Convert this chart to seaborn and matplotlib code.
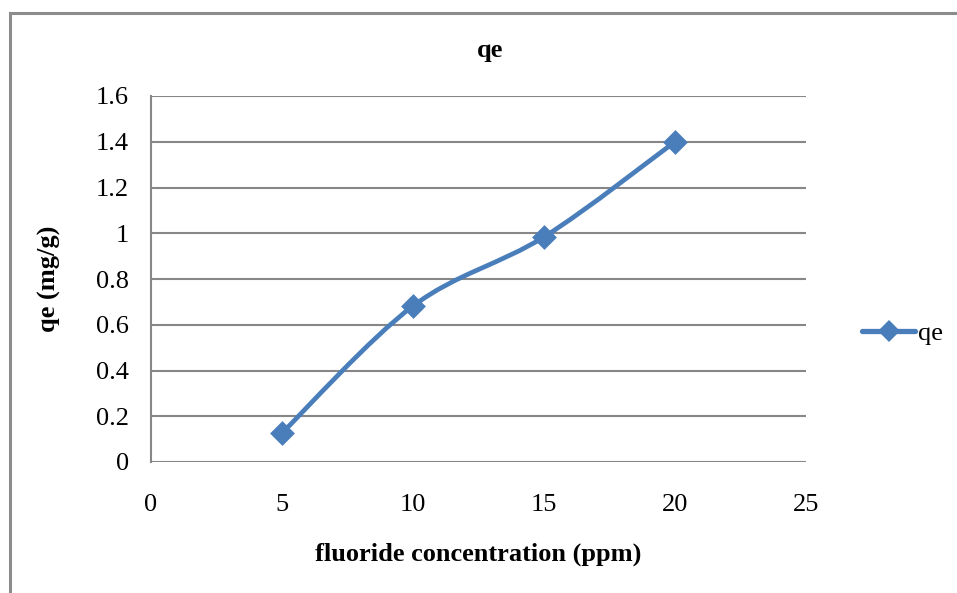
import numpy as np
import pandas as pd
import seaborn as sns
import matplotlib
matplotlib.use("Agg")
import matplotlib.pyplot as plt
from matplotlib.path import Path
from matplotlib.patches import PathPatch, Rectangle
from matplotlib.lines import Line2D

# Adsorption capacity vs. initial fluoride concentration
concentration = [5, 10, 15, 20]
qe_values = [0.127, 0.682, 0.984, 1.40]
series_name = "qe"
x_ticks = [0, 5, 10, 15, 20, 25]
y_ticks = [0, 0.2, 0.4, 0.6, 0.8, 1.0, 1.2, 1.4, 1.6]
y_tick_labels = ["0", "0.2", "0.4", "0.6", "0.8", "1", "1.2", "1.4", "1.6"]

df = pd.DataFrame({"conc": concentration, "qe": qe_values})

sns.set_theme(style="white")
plt.rcParams["font.family"] = ["Liberation Serif", "DejaVu Serif"]
plt.rcParams["text.color"] = "black"
plt.rcParams["axes.labelcolor"] = "black"

BLUE = "#4A7EBB"
GRID = "#878787"
FS = 19

fig = plt.figure(figsize=(9.57, 5.93), dpi=100)
fig.patch.set_facecolor("white")

# outer chart frame (only left and top edges fall inside the canvas)
fig.patches.append(Rectangle((10 / 957, -0.05), 1.2, 1 - 13 / 593 + 0.05,
                             transform=fig.transFigure, fill=False,
                             edgecolor="#8c8c8c", linewidth=2.2))

ax = fig.add_axes([151 / 957, 1 - 462 / 593, (806 - 151) / 957, (462 - 96) / 593])


def smooth_path(xs, ys):
    """Cubic Bezier path through the points (Catmull-Rom style tangents)."""
    xs = np.asarray(xs, float)
    ys = np.asarray(ys, float)
    verts = [(xs[0], ys[0])]
    codes = [Path.MOVETO]
    n = len(xs)
    for i in range(n - 1):
        p0 = (xs[max(i - 1, 0)], ys[max(i - 1, 0)])
        p1 = (xs[i], ys[i])
        p2 = (xs[i + 1], ys[i + 1])
        p3 = (xs[min(i + 2, n - 1)], ys[min(i + 2, n - 1)])
        c1 = (p1[0] + (p2[0] - p0[0]) / 6, p1[1] + (p2[1] - p0[1]) / 6)
        c2 = (p2[0] - (p3[0] - p1[0]) / 6, p2[1] - (p3[1] - p1[1]) / 6)
        verts += [c1, c2, p2]
        codes += [Path.CURVE4] * 3
    return Path(verts, codes)


ax.add_patch(PathPatch(smooth_path(df["conc"], df["qe"]), facecolor="none",
                       edgecolor=BLUE, linewidth=3.4, capstyle="round",
                       joinstyle="round", zorder=3))

sns.scatterplot(data=df, x="conc", y="qe", ax=ax, marker="D", s=160,
                color=BLUE, edgecolor=BLUE, linewidth=0, zorder=4, legend=False)

ax.set_xlim(0, 25)
ax.set_ylim(0, 1.6)
ax.set_xticks(x_ticks)
ax.set_xticklabels([str(t) for t in x_ticks])
ax.set_yticks(y_ticks)
ax.set_yticklabels(y_tick_labels)
ax.tick_params(axis="both", length=0, labelsize=FS, colors="black")
ax.tick_params(axis="y", pad=16)
ax.tick_params(axis="x", pad=23)

ax.grid(axis="y", color=GRID, linewidth=1.5)
ax.grid(axis="x", visible=False)
ax.set_axisbelow(True)
for side in ["top", "right", "bottom"]:
    ax.spines[side].set_visible(False)
ax.spines["left"].set_color(GRID)
ax.spines["left"].set_linewidth(1.5)

ax.set_xlabel("fluoride concentration (ppm)", fontsize=FS, fontweight="bold",
              labelpad=19)
ax.set_ylabel("qe (mg/g)", fontsize=FS, fontweight="bold", labelpad=25)

fig.text(490 / 957, 1 - 50 / 593, series_name, fontsize=FS, fontweight="bold",
         ha="center", va="center")

handle = Line2D([0], [0], color=BLUE, linewidth=3.8, marker="D", markersize=11,
                markeredgewidth=0, solid_capstyle="round")
fig.legend([handle], [series_name], loc="center left",
           bbox_to_anchor=(849 / 957, 1 - 333 / 593), frameon=False,
           fontsize=FS, handlelength=2.0, handletextpad=0.1, borderpad=0)

fig.savefig("out.png", dpi=100, facecolor="white")
